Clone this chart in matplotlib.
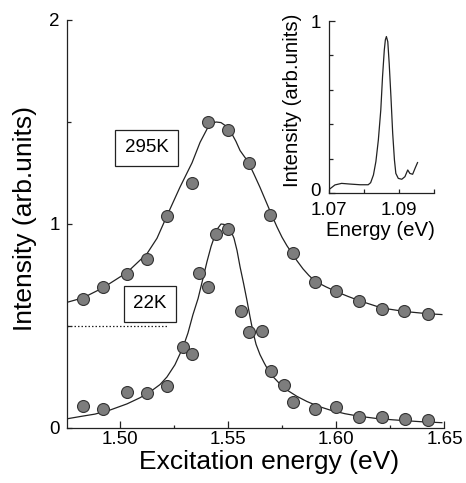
import matplotlib
matplotlib.use("Agg")
import matplotlib.pyplot as plt
import numpy as np
from matplotlib.ticker import MultipleLocator, FixedLocator

plt.rcParams['font.family'] = ['Liberation Sans', 'DejaVu Sans']

#... excitation spectra, markers (eV, arb. units)
x_295 = [1.4830, 1.4920, 1.5031, 1.5123, 1.5216, 1.5331, 1.5405, 1.5501, 1.5596,
         1.5693, 1.5798, 1.5901, 1.5998, 1.6106, 1.6210, 1.6314, 1.6425]
y_295 = [0.632, 0.690, 0.753, 0.827, 1.041, 1.199, 1.502, 1.461, 1.301,
         1.044, 0.859, 0.717, 0.672, 0.624, 0.583, 0.574, 0.559]

x_22 = [1.4830, 1.4920, 1.5031, 1.5123, 1.5216, 1.5293, 1.5331, 1.5367, 1.5405,
        1.5442, 1.5501, 1.5558, 1.5598, 1.5655, 1.5697, 1.5758, 1.5798, 1.5901,
        1.5998, 1.6106, 1.6210, 1.6317, 1.6425]
y_22 = [0.108, 0.093, 0.176, 0.172, 0.207, 0.395, 0.363, 0.761, 0.693,
        0.950, 0.975, 0.573, 0.472, 0.475, 0.279, 0.211, 0.129, 0.093,
        0.104, 0.055, 0.055, 0.044, 0.039]

#... fitted curves
fx_295 = [1.4755, 1.4829, 1.4921, 1.5032, 1.5125, 1.5171, 1.5217, 1.5277, 1.5333,
          1.5370, 1.5407, 1.5425, 1.5444, 1.5467, 1.5490, 1.5513, 1.5536, 1.5555,
          1.5592, 1.5619, 1.5647, 1.5675, 1.5703, 1.5726, 1.5749, 1.5772, 1.5795,
          1.5818, 1.5846, 1.5873, 1.5901, 1.5952, 1.6003, 1.6054, 1.6109, 1.6211,
          1.6317, 1.6424, 1.6488]
fy_295 = [0.616, 0.638, 0.687, 0.762, 0.855, 0.930, 1.040, 1.180, 1.300,
          1.400, 1.475, 1.493, 1.500, 1.497, 1.480, 1.450, 1.405, 1.360,
          1.305, 1.245, 1.180, 1.110, 1.040, 0.985, 0.935, 0.893, 0.857,
          0.820, 0.780, 0.748, 0.720, 0.692, 0.667, 0.645, 0.623, 0.588,
          0.571, 0.560, 0.556]

fx_22 = [1.4755, 1.4815, 1.4884, 1.4954, 1.5032, 1.5092, 1.5139, 1.5185, 1.5217,
         1.5254, 1.5291, 1.5314, 1.5337, 1.5361, 1.5384, 1.5402, 1.5421, 1.5439,
         1.5453, 1.5467, 1.5481, 1.5499, 1.5513, 1.5527, 1.5541, 1.5555, 1.5571,
         1.5587, 1.5601, 1.5615, 1.5629, 1.5647, 1.5666, 1.5684, 1.5707, 1.5740,
         1.5772, 1.5818, 1.5864, 1.5915, 1.5971, 1.6040, 1.6109, 1.6183, 1.6262,
         1.6387, 1.6488]
fy_22 = [0.045, 0.056, 0.068, 0.088, 0.118, 0.148, 0.177, 0.213, 0.250,
         0.310, 0.395, 0.465, 0.555, 0.635, 0.735, 0.815, 0.890, 0.945,
         0.980, 1.000, 0.998, 0.985, 0.965, 0.930, 0.870, 0.790, 0.710,
         0.625, 0.545, 0.470, 0.410, 0.360, 0.320, 0.285, 0.252, 0.215,
         0.186, 0.155, 0.130, 0.107, 0.088, 0.070, 0.057, 0.047, 0.040,
         0.031, 0.026]

#... inset PL spectrum
ex_pl = [1.0700, 1.0717, 1.0736, 1.0760, 1.0789, 1.0812, 1.0819, 1.0827, 1.0834,
         1.0841, 1.0848, 1.0853, 1.0858, 1.0861, 1.0864, 1.0868, 1.0872, 1.0877,
         1.0882, 1.0887, 1.0891, 1.0898, 1.0908, 1.0917, 1.0925, 1.0931, 1.0939,
         1.0946, 1.0953]
iy_pl = [0.020, 0.047, 0.056, 0.052, 0.048, 0.048, 0.060, 0.105, 0.183,
         0.308, 0.483, 0.677, 0.831, 0.890, 0.910, 0.880, 0.754, 0.560,
         0.347, 0.192, 0.114, 0.085, 0.080, 0.095, 0.134, 0.114, 0.109,
         0.144, 0.177]

labels = ['295K', '22K']
label_pos = [(1.5123, 1.373), (1.5139, 0.609)]

#=============================================================================
fig = plt.figure(figsize=(4.66, 4.83), dpi=100)
ax = fig.add_axes([0.1438, 0.1139, 0.810, 0.8447])

lc = '#222222'
ax.plot(fx_295, fy_295, color=lc, lw=0.9, zorder=2)
ax.plot(fx_22, fy_22, color=lc, lw=0.9, zorder=2)
mk = dict(ls='none', marker='o', ms=8.6, mfc='#7d7d7d', mec='#333333', mew=0.8, zorder=3)
ax.plot(x_295, y_295, **mk)
ax.plot(x_22, y_22, **mk)

#... zero level of the shifted 295K data
ax.plot([1.4755, 1.5222], [0.5, 0.5], color=lc, lw=0.9, ls=(0, (1.2, 1.6)))

for lab, (tx, ty) in zip(labels, label_pos):
    ax.text(tx, ty, lab, ha='center', va='center', fontsize=13.5,
            bbox=dict(boxstyle='square,pad=0.5', fc='white', ec=lc, lw=0.9))

ax.set_xlim(1.4755, 1.65)
ax.set_ylim(0, 2)
for s in ['top', 'right']:
    ax.spines[s].set_visible(False)
for s in ['left', 'bottom']:
    ax.spines[s].set_linewidth(0.9)
    ax.spines[s].set_color(lc)

ax.xaxis.set_major_locator(FixedLocator([1.50, 1.55, 1.60, 1.65]))
ax.xaxis.set_minor_locator(FixedLocator([1.525, 1.575, 1.625]))
ax.set_xticklabels(['1.50', '1.55', '1.60', '1.65'])
ax.yaxis.set_major_locator(FixedLocator([0, 1, 2]))
ax.yaxis.set_minor_locator(FixedLocator([0.5, 1.5]))
ax.set_yticklabels(['0', '1', '2'])
ax.tick_params(axis='x', which='major', direction='in', length=5, width=0.9,
               labelsize=13.5, pad=2.0, color=lc)
ax.tick_params(axis='x', which='minor', direction='in', length=2.5, width=0.9, color=lc)
ax.tick_params(axis='y', which='major', direction='in', length=3.8, width=0.9,
               labelsize=13.5, pad=5.4, color=lc)
ax.tick_params(axis='y', which='minor', direction='in', length=3, width=0.9, color=lc)

ax.set_xlabel('Excitation energy (eV)', fontsize=19)
ax.set_ylabel('Intensity (arb.units)', fontsize=19)
ax.xaxis.set_label_coords(0.536, -0.053)
ax.yaxis.set_label_coords(-0.0795, 0.514)

#=============================================================================
#... inset
axi = fig.add_axes([0.706, 0.6004, 0.2253, 0.356])
axi.plot(ex_pl, iy_pl, color=lc, lw=0.9)
axi.set_xlim(1.07, 1.10)
axi.set_ylim(0, 1)
for s in ['top', 'right']:
    axi.spines[s].set_visible(False)
for s in ['left', 'bottom']:
    axi.spines[s].set_linewidth(0.9)
    axi.spines[s].set_color(lc)
axi.xaxis.set_major_locator(FixedLocator([1.07, 1.09]))
axi.xaxis.set_minor_locator(FixedLocator([1.08, 1.10]))
axi.set_xticklabels(['1.07', '1.09'])
axi.yaxis.set_major_locator(FixedLocator([0, 1]))
axi.yaxis.set_minor_locator(FixedLocator([0.2, 0.4, 0.6, 0.8]))
axi.set_yticklabels(['', '1'])
#... the "0" sits a little higher so it clears "1.07"
axi.annotate('0', xy=(0, 0), xycoords='axes fraction', xytext=(-5.8, 2.5),
             textcoords='offset points', ha='right', va='center_baseline',
             fontsize=13.5)
axi.tick_params(axis='x', which='both', direction='in', length=3, width=0.9,
                labelsize=13.5, pad=6.8, color=lc)
axi.tick_params(axis='y', which='major', direction='in', length=4, width=0.9,
                labelsize=13.5, pad=5.8, color=lc)
axi.tick_params(axis='y', which='minor', direction='in', length=2.7, width=0.9, color=lc)
axi.set_xlabel('Energy (eV)', fontsize=14.7)
axi.set_ylabel('Intensity (arb.units)', fontsize=14.7)
axi.xaxis.set_label_coords(0.486, -0.165)
axi.yaxis.set_label_coords(-0.257, 0.54)

fig.savefig('out.png', dpi=100)
